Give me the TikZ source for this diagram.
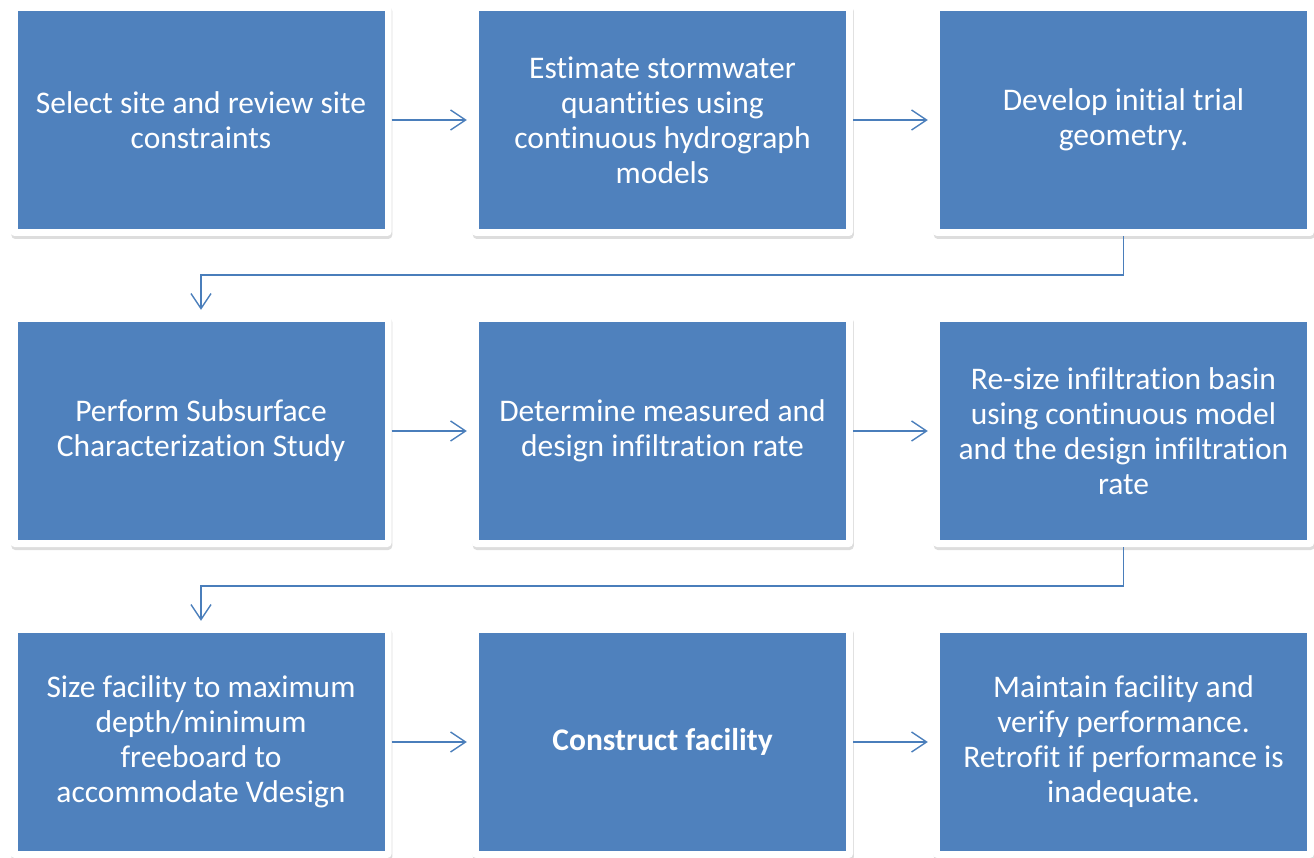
\documentclass[tikz,border=0pt]{standalone}
\usepackage{fontspec}
\setmainfont{Carlito}[Ligatures=CommonOff]
\usetikzlibrary{arrows.meta,shadows}
\definecolor{boxblue}{HTML}{4F81BD}
\definecolor{linkblue}{HTML}{4A7EBB}
\begin{document}
\begin{tikzpicture}[x=1pt,y=-1pt,
  frame/.style={fill=white, rounded corners=4pt, minimum width=381pt, minimum height=232pt, inner sep=0pt,
    drop shadow={shadow xshift=0.8pt, shadow yshift=-3pt, opacity=0.22, fill=black!60}},
  inner/.style={fill=boxblue, minimum width=367pt, minimum height=218pt, inner sep=0pt, text=white,
    align=center, font=\fontsize{31.5pt}{35pt}\selectfont},
  link/.style={draw=linkblue, line width=1.4pt, -{Straight Barb[length=15pt,width=20pt,line width=1.4pt]}, shorten >=5pt}
]
\useasboundingbox (0,0) rectangle (1314,858);
% frames
\node[frame] (f1) at (201,120) {};
\node[frame] (f2) at (662.5,120) {};
\node[frame] (f3) at (1123.5,120) {};
\node[frame] (f4) at (201,431) {};
\node[frame] (f5) at (662.5,431) {};
\node[frame] (f6) at (1123.5,431) {};
\node[frame] (f7) at (201,742) {};
\node[frame] (f8) at (662.5,742) {};
\node[frame] (f9) at (1123.5,742) {};
% inner blue boxes with text
\node[inner] (t1) at (f1) {Select site and review site\\constraints};
\node[inner] (t2) at (f2) {Estimate stormwater\\quantities using\\continuous hydrograph\\models};
\node[inner] (t3) at (f3) {Develop initial trial\\geometry.};
\node[inner] (t4) at (f4) {Perform Subsurface\\Characterization Study};
\node[inner] (t5) at (f5) {Determine measured and\\design infiltration rate};
\node[inner] (t6) at (f6) {Re-size infiltration basin\\using continuous model\\and the design infiltration\\rate};
\node[inner] (t7) at (f7) {Size facility to maximum\\depth/minimum\\freeboard to\\accommodate Vdesign};
\node[inner] (t8) at (f8) {\bfseries Construct facility};
\node[inner] (t9) at (f9) {Maintain facility and\\verify performance.\\Retrofit if performance is\\inadequate.};
% connectors
\draw[link] (f1.east) -- (f2.west);
\draw[link] (f2.east) -- (f3.west);
\draw[link] (f4.east) -- (f5.west);
\draw[link] (f5.east) -- (f6.west);
\draw[link] (f7.east) -- (f8.west);
\draw[link] (f8.east) -- (f9.west);
\coordinate (c1) at (1123.5,275);
\coordinate (c2) at (201,275);
\draw[link] (f3.south) -- (c1) -- (c2) -- (f4.north);
\coordinate (c3) at (1123.5,586);
\coordinate (c4) at (201,586);
\draw[link] (f6.south) -- (c3) -- (c4) -- (f7.north);
\end{tikzpicture}
\end{document}
